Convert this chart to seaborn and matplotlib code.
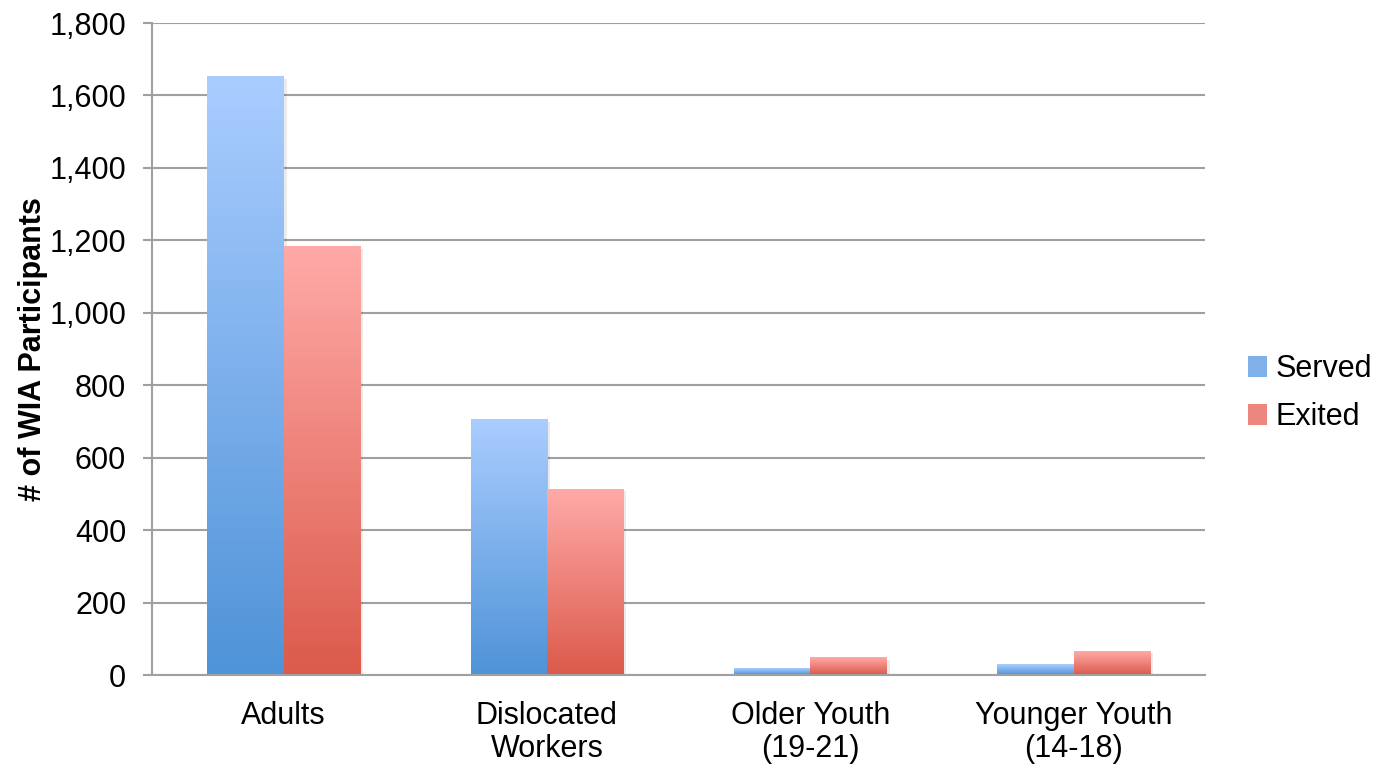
import numpy as np
import pandas as pd
import matplotlib
matplotlib.use("Agg")
import matplotlib.pyplot as plt
import seaborn as sns
from matplotlib.colors import LinearSegmentedColormap
from matplotlib.patches import Patch

categories = ["Adults", "Dislocated\nWorkers", "Older Youth\n(19-21)", "Younger Youth\n(14-18)"]
served = [1651, 704, 19, 28]
exited = [1182, 513, 47, 66]
series = ["Served", "Exited"]
yticks = [0, 200, 400, 600, 800, 1000, 1200, 1400, 1600, 1800]

df = pd.DataFrame({
    "category": categories * 2,
    "value": served + exited,
    "series": ["Served"] * 4 + ["Exited"] * 4,
})

sns.set_theme(style="white")
plt.rcParams["font.family"] = ["Liberation Sans", "DejaVu Sans"]
plt.rcParams["text.color"] = "black"

fig = plt.figure(figsize=(13.85, 7.68), dpi=100)
ax = fig.add_axes([0.1097, 0.121, 0.7605, 0.849])

top_cols = {"Served": "#aacdff", "Exited": "#ffaaa7"}
bot_cols = {"Served": "#4f93d8", "Exited": "#db5a4b"}
mid_cols = {"Served": "#7fb0ea", "Exited": "#ee8680"}

sns.barplot(data=df, x="category", y="value", hue="series", order=categories,
            hue_order=series, palette=mid_cols, width=0.58, ax=ax,
            saturation=1, legend=False, zorder=3)

# gradients
grad = np.linspace(1, 0, 256).reshape(-1, 1)
n = len(categories)
for i, p in enumerate(ax.patches):
    s = series[i // n]
    cmap = LinearSegmentedColormap.from_list(s, [bot_cols[s], top_cols[s]])
    x0, y0 = p.get_x(), p.get_y()
    w, h = p.get_width(), p.get_height()
    if h <= 0:
        continue
    ax.add_patch(plt.Rectangle((x0 + 0.012, y0), w, max(h - 6, 0), color="#000000",
                               alpha=0.08, zorder=2, lw=0))
    ax.imshow(grad, extent=[x0, x0 + w, y0, y0 + h], aspect="auto",
              cmap=cmap, vmin=0, vmax=1, zorder=3.5, interpolation="bilinear")
    p.set_facecolor("none")
    p.set_edgecolor("none")
ax.set_xlim(-0.5, 3.5)
ax.set_ylim(0, 1800)

ax.set_yticks(yticks)
ax.set_yticklabels([f"{v:,}" for v in yticks], fontsize=22, color="#000000")
ax.set_xticks(range(n))
ax.set_xticklabels(categories, fontsize=22, color="#000000", linespacing=1.1)
ax.set_xticks([-0.5, 0.5, 1.5, 2.5, 3.5], minor=True)
ax.tick_params(axis="x", which="major", length=0, pad=19)
ax.tick_params(axis="x", which="minor", length=7, width=1.5, color="#a0a0a0")
ax.tick_params(axis="y", which="major", length=6.5, width=1.5, color="#a0a0a0", pad=12, left=True)

ax.grid(axis="y", color="#a0a0a0", lw=1.5, zorder=0)
ax.set_axisbelow(True)
for sp in ["top", "right"]:
    ax.spines[sp].set_visible(False)
for sp in ["left", "bottom"]:
    ax.spines[sp].set_color("#a0a0a0")
    ax.spines[sp].set_linewidth(1.5)
    ax.spines[sp].set_zorder(4)

ax.set_xlabel("")
ax.set_ylabel("# of WIA Participants", fontsize=22, fontweight="bold", color="black")
ax.yaxis.set_label_coords(-0.0985, 0.5)

handles = [Patch(facecolor=mid_cols[s], edgecolor="none", label=s) for s in series]
fig.legend(handles=handles, loc="center left", bbox_to_anchor=(0.881, 0.488),
           frameon=False, fontsize=22, handlelength=0.62, handleheight=0.7,
           handletextpad=0.3, labelspacing=0.6, labelcolor="black")

fig.savefig("out.png", dpi=100)
